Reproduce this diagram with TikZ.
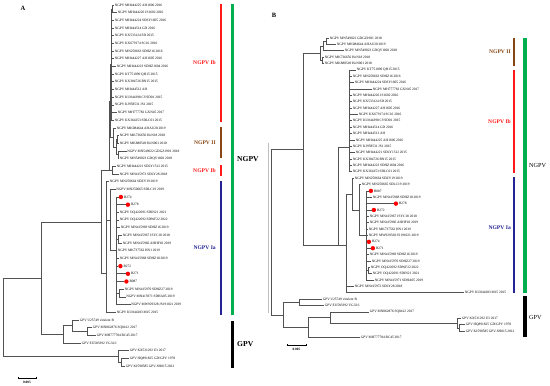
\documentclass[tikz,border=0pt]{standalone}
\usepackage{fontspec}
\setmainfont{Liberation Serif}
\usetikzlibrary{positioning, calc}

\definecolor{cladeIb}{RGB}{255,25,25}
\definecolor{cladeII}{RGB}{135,70,20}
\definecolor{cladeIa}{RGB}{35,35,150}
\definecolor{ngpvgreen}{RGB}{0,175,80}

\begin{document}
\begin{tikzpicture}[x=1pt, y=-1pt,
    br/.style={draw=black!68, line width=0.65pt},
    leaf/.style={anchor=west, inner sep=0.6pt, font=\fontsize{3.5}{4}\selectfont},
    dot/.style={circle, fill=red, inner sep=0pt, minimum size=4.4pt, anchor=west},
    clade/.style={anchor=east, inner sep=0pt, font=\bfseries\fontsize{5.6}{6}\selectfont},
    group/.style={anchor=west, inner sep=0pt, font=\bfseries\fontsize{7.6}{8}\selectfont},
    bar/.style={line width=2pt},
    wbar/.style={line width=3.3pt},
  ]
  \useasboundingbox (0,0) rectangle (550,386);

  % Panel A: leaves
  \node[font=\bfseries\fontsize{6.5}{7}\selectfont] (tagA) at (23,8) {A};
  \foreach \i/\xe/\txt in {
      1/114/{NGPV MH444225 AH1606 2016}, 2/117/{NGPV MH444226 JS1602 2016},
      3/114/{NGPV MH444224 SDSY1605 2016}, 4/114/{NGPV MH444514 GD 2016},
      5/114/{NGPV KX533124 SD 2015}, 6/114/{NGPV KX679174 SC16 2016},
      7/114/{NGPV MN250663 SDHZ16 2016}, 8/114/{NGPV MH444227 AH1605 2016},
      9/116/{NGPV MH444223 SDHZ1604 2016}, 10/114/{NGPV KT751090 QH15 2015},
      11/114/{NGPV KX384726 BN15 2015}, 12/114/{NGPV MH444512 AH},
      13/114/{NGPV KU844398 CVSD01 2015}, 14/114/{NGPV KJ958531 JS1 2015},
      15/117/{NGPV MH777782 GXN45 2017}, 16/114/{NGPV KX364253 SDLC01 2015},
      17/116/{NGPV MK084644 AHAU20 2019}, 18/119/{NGPV MK736656 HeN18 2018},
      19/119/{NGPV MK880549 HeN001 2018}, 20/126.5/{NGPV MN549022 GDGZ1901 2018},
      21/119/{NGPV MN549023 GDQY1802 2018}, 22/116/{NGPV MH444221 SDLY1512 2015},
      23/119/{NGPV MN415972 SDLY28 2018}, 24/109/{NGPV MN250664 SDZY19 2019},
      25/115.5/{NGPV MN250665 SDLC19 2019}, 28/119/{NGPV OQ422691 SDJN21 2021},
      29/119/{NGPV OQ422692 SDWF22 2022}, 30/120/{NGPV MN415969 SDHZ16 2019},
      31/122/{NGPV MN415967 JSYC18 2018}, 32/122/{NGPV MN415966 AHHF18 2019},
      33/117/{NGPV MK737562 HN1 2019}, 34/119/{NGPV MN415968 SDHZ18 2019},
      38/124/{NGPV MN415970 SDHZ27 2019}, 39/125.5/{NGPV MN415971 SDHA05 2019},
      40/130.5/{NGPV MW929328 JS191021 2019}, 41/116/{NGPV KU844283 M15 2015},
      42/79/{GPV U25749 virulent B}, 43/92/{GPV MN062876 SQ0412 2017},
      44/96/{GPV MH777784 BC45 2017}, 45/81/{GPV EU583392 VG32/1},
      46/129/{GPV KX531292 E3 2017}, 47/129/{GPV HQ891825 GD/GPV 1978},
      48/125/{GPV KJ598585 GPV-SH015 2012}} {
    \coordinate (a\i) at (\xe,{5+7.68*(\i-1)});
    \node[leaf] (la\i) at (a\i) {\txt};
  }
  \foreach \i/\xe/\txt in {26/118.5/B274, 27/125.5/B278, 35/118/B272,
      36/125.5/B271, 37/124/B087} {
    \coordinate (a\i) at (\xe,{5+7.68*(\i-1)});
    \node[dot] (da\i) at (a\i) {};
    \node[leaf] (la\i) at (da\i.east) {\txt};
  }

  % Panel A: inner nodes
  \coordinate (pA1) at (112,8.84);
  \coordinate (cIb) at (111,64.52);
  \coordinate (pA2) at (117,139.40);
  \coordinate (pA4) at (118,154.76);
  \coordinate (pA3) at (116,147.08);
  \coordinate (cII) at (113,137.48);
  \coordinate (cIbII) at (110.5,101);
  \coordinate (pA6) at (112,170.12);
  \coordinate (cTop) at (109,170.12);
  \coordinate (pA7) at (118,239.24);
  \coordinate (pA8) at (119,293.00);
  \coordinate (cIa) at (116,250.76);
  \coordinate (cIa2) at (110,220.04);
  \coordinate (cIa3) at (106,273);
  \coordinate (cNG) at (101,222);
  \coordinate (gA1) at (87,331.40);
  \coordinate (gA2) at (72,325.64);
  \coordinate (gA3) at (63,334.28);
  \coordinate (nA) at (41,278.14);
  \coordinate (gA4) at (121,362.12);
  \coordinate (gA5) at (118,356.36);
  \coordinate (rootA) at (3,317.25);

  % Panel A: branches
  \foreach \p/\c in {pA1/a1, pA1/a2, cIb/pA1, cIb/a3, cIb/a4, cIb/a5, cIb/a6,
      cIb/a7, cIb/a8, cIb/a9, cIb/a10, cIb/a11, cIb/a12, cIb/a13, cIb/a14,
      cIb/a15, cIb/a16, pA2/a18, pA2/a19, pA4/a20, pA4/a21, pA3/pA2, pA3/pA4,
      cII/a17, cII/pA3, cIbII/cIb, cIbII/cII, pA6/a22, pA6/a23, cTop/cIbII,
      cTop/pA6, pA7/a31, pA7/a32, pA8/a38, pA8/a39, cIa/a26, cIa/a27, cIa/a28,
      cIa/a29, cIa/a30, cIa/pA7, cIa/a33, cIa/a34, cIa/a35, cIa/a36, cIa/a37,
      cIa/pA8, cIa/a40, cIa2/a25, cIa2/cIa, cIa3/a24, cIa3/cIa2, cIa3/a41,
      cNG/cTop, cNG/cIa3, gA1/a43, gA1/a44, gA2/a42, gA2/gA1, gA3/gA2, gA3/a45,
      nA/cNG, nA/gA3, gA4/a47, gA4/a48, gA5/a46, gA5/gA4, rootA/nA, rootA/gA5}
    \draw[br] (\p) |- (\c);

  % Panel A: clade bars
  \draw[bar, cladeIb] (220.7,4) -- (220.7,122);
  \draw[bar, cladeII] (220.7,127) -- (220.7,158);
  \draw[bar, cladeIb] (220.7,165) -- (220.7,176);
  \draw[bar, cladeIa] (220.7,181) -- (220.7,315);
  \draw[wbar, ngpvgreen] (232.3,4) -- (232.3,315);
  \draw[wbar, black] (232.3,321) -- (232.3,368);
  \draw[black!25, line width=0.4pt] (268.5,143) -- (268.5,313);
  \node[clade, cladeIb] (ibA) at (216,63) {NGPV Ib};
  \node[clade, cladeII] (iiA) at (216,143) {NGPV II};
  \node[clade, cladeIb] (ib2A) at (216,171) {NGPV Ib};
  \node[clade, cladeIa] (iaA) at (216,248) {NGPV Ia};
  \node[group] (ngA) at (237,159) {NGPV};
  \node[group] (gpA) at (237,344) {GPV};

  % Panel A: scale
  \coordinate (sA1) at (18,378);
  \coordinate (sA2) at (36,378);
  \draw[black, line width=0.5pt] (sA1) -- (sA2);
  \draw[black, line width=0.4pt] ($(sA1)+(0,-1.2)$) -- ($(sA1)+(0,1.2)$)
    ($(sA2)+(0,-1.2)$) -- ($(sA2)+(0,1.2)$);
  \node[font=\bfseries\fontsize{3.4}{4}\selectfont, inner sep=0pt] (scA) at (27,382.5) {0.005};

  % Panel B: leaves
  \node[font=\bfseries\fontsize{6.5}{7}\selectfont] (tagB) at (274,15) {B};
  \foreach \i/\xe/\txt in {
      1/329/{NGPV MN549022 GDGZ1901 2018}, 2/336/{NGPV MK084644 AHAU20 2019},
      3/344/{NGPV MN549023 GDQY1802 2018}, 4/324/{NGPV MK736656 HeN18 2018},
      5/324/{NGPV MK880549 HeN001 2018}, 6/356/{NGPV KT751090 QH15 2015},
      7/352/{NGPV MN250663 SDHZ16 2016}, 8/354/{NGPV MH444224 SDSY1605 2016},
      9/372/{NGPV MH777782 GXN45 2017}, 10/352/{NGPV MH444226 JS1602 2016},
      11/352/{NGPV KX533124 SD 2015}, 12/352/{NGPV MH444227 AH1605 2016},
      13/358/{NGPV KX679174 SC16 2016}, 14/352/{NGPV KU844398 CVSD01 2015},
      15/352/{NGPV MH444514 GD 2016}, 16/352/{NGPV MH444512 AH},
      17/355/{NGPV MH444225 AH1606 2016}, 18/352/{NGPV KJ958531 JS1 2015},
      19/355/{NGPV MH444221 SDLY1512 2015}, 20/352/{NGPV KX384726 BN15 2015},
      21/352/{NGPV MH444223 SDHZ1604 2016}, 22/352/{NGPV KX364253 SDLC01 2015},
      23/354/{NGPV MN250664 SDZY19 2019}, 24/361/{NGPV MN250665 SDLC19 2019},
      26/372/{NGPV MN415968 SDHZ18 2019}, 29/369/{NGPV MN415967 JSYC18 2018},
      30/369/{NGPV MN415966 AHHF18 2019}, 31/368/{NGPV MK737562 HN1 2019},
      32/368/{NGPV MW929328 JS191021 2019}, 35/369/{NGPV MN415969 SDHZ16 2019},
      36/371/{NGPV MN415970 SDHZ27 2019}, 37/370/{NGPV OQ422692 SDWF22 2022},
      38/372/{NGPV OQ422691 SDJN21 2021}, 39/374/{NGPV MN415971 SDHA05 2019},
      40/354/{NGPV MN415972 SDLY28 2018}, 41/464/{NGPV KU844283 M15 2015},
      42/322/{GPV U25749 virulent B}, 43/324/{GPV EU583392 VG32/1},
      44/369/{GPV MN062876 SQ0412 2017}, 45/461/{GPV KX531292 E3 2017},
      46/465/{GPV HQ891825 GD/GPV 1978}, 47/465/{GPV KJ598585 GPV-SH015 2012},
      48/360/{GPV MH777784 BC45 2017}} {
    \coordinate (b\i) at (\xe,{38+6.37*(\i-1)});
    \node[leaf] (lb\i) at (b\i) {\txt};
  }
  \foreach \i/\xe/\txt in {25/368.5/B087, 27/393.5/B278, 28/371.5/B272,
      33/366.5/B274, 34/370.5/B271} {
    \coordinate (b\i) at (\xe,{38+6.37*(\i-1)});
    \node[dot] (db\i) at (b\i) {};
    \node[leaf] (lb\i) at (db\i.east) {\txt};
  }

  % Panel B: inner nodes
  \coordinate (qB1) at (326,41.19);
  \coordinate (IIa) at (323,45.96);
  \coordinate (IIb) at (322,60.30);
  \coordinate (IIB) at (320,53.13);
  \coordinate (IbB) at (349,147);
  \coordinate (qB2) at (368,270.5);
  \coordinate (IaC) at (366,235.47);
  \coordinate (Ia2) at (359,210);
  \coordinate (Ia3) at (352,194);
  \coordinate (Ia4) at (346,245);
  \coordinate (X) at (338,245);
  \coordinate (ngB) at (303,149.07);
  \coordinate (pairB) at (299,302.35);
  \coordinate (G4) at (459,327.84);
  \coordinate (G3) at (457,323.06);
  \coordinate (G2) at (330,317.48);
  \coordinate (G1) at (308,327.44);
  \coordinate (gpB) at (283,314.9);
  \coordinate (rootB) at (271,232);

  % Panel B: branches
  \foreach \p/\c in {qB1/b1, qB1/b2, IIa/qB1, IIa/b3, IIb/b4, IIb/b5, IIB/IIa,
      IIB/IIb, IbB/b6, IbB/b7, IbB/b8, IbB/b9, IbB/b10, IbB/b11, IbB/b12,
      IbB/b13, IbB/b14, IbB/b15, IbB/b16, IbB/b17, IbB/b18, IbB/b19, IbB/b20,
      IbB/b21, IbB/b22, qB2/b37, qB2/b38, IaC/b25, IaC/b26, IaC/b27, IaC/b28,
      IaC/b29, IaC/b30, IaC/b31, IaC/b32, IaC/b33, IaC/b34, IaC/b35, IaC/b36,
      IaC/qB2, IaC/b39, Ia2/b24, Ia2/IaC, Ia3/b23, Ia3/Ia2, Ia4/Ia3, Ia4/b40,
      Ia4/b41, X/IbB, X/Ia4, ngB/IIB, ngB/X, pairB/b42, pairB/b43, G4/b46,
      G4/b47, G3/b45, G3/G4, G2/b44, G2/G3, G1/G2, G1/b48, gpB/pairB, gpB/G1,
      rootB/ngB, rootB/gpB}
    \draw[br] (\p) |- (\c);

  % Panel B: clade bars
  \draw[bar, cladeII] (514.3,38) -- (514.3,66);
  \draw[bar, cladeIb] (514.3,70) -- (514.3,173);
  \draw[bar, cladeIa] (514.3,177) -- (514.3,293);
  \draw[wbar, ngpvgreen] (525,38) -- (525,293);
  \draw[wbar, black] (525,296) -- (525,337);
  \node[clade, cladeII] (iiB) at (511,52) {NGPV II};
  \node[clade, cladeIb] (ibB) at (511,122) {NGPV Ib};
  \node[clade, cladeIa] (iaB) at (511,228) {NGPV Ia};
  \node[group, font=\fontsize{6.2}{7}\selectfont] (ngBl) at (529,165) {NGPV};
  \node[group, font=\fontsize{6.2}{7}\selectfont] (gpBl) at (529,317) {GPV};

  % Panel B: scale
  \coordinate (sB1) at (287,345);
  \coordinate (sB2) at (306,345);
  \draw[black, line width=0.5pt] (sB1) -- (sB2);
  \draw[black, line width=0.4pt] ($(sB1)+(0,-1.2)$) -- ($(sB1)+(0,1.2)$)
    ($(sB2)+(0,-1.2)$) -- ($(sB2)+(0,1.2)$);
  \node[font=\bfseries\fontsize{3.4}{4}\selectfont, inner sep=0pt] (scB) at (296.5,349.5) {0.005};
\end{tikzpicture}
\end{document}
